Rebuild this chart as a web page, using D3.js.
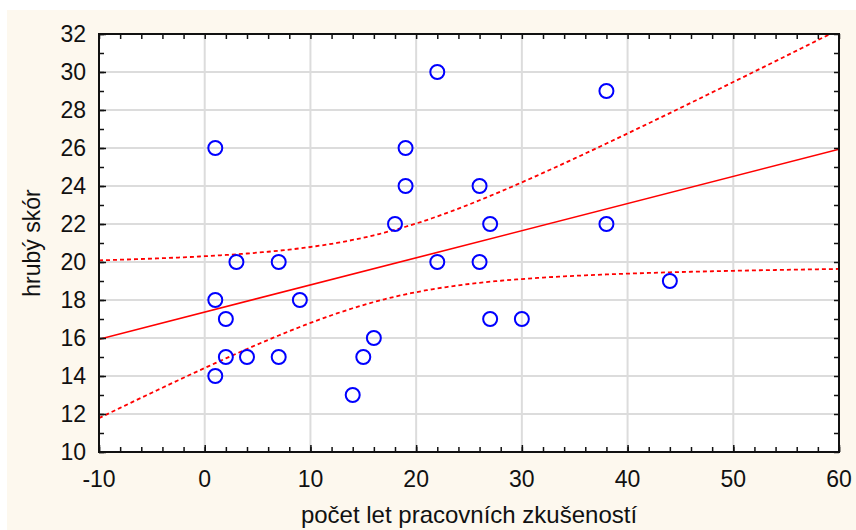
<!DOCTYPE html>
<html>
<head>
<meta charset="utf-8">
<script src="https://cdn.jsdelivr.net/npm/d3@7"></script>
<style>
  body { margin: 0; background: #fff; }
  svg text { font-family: "Liberation Sans", Arial, sans-serif; fill: #111; }
</style>
</head>
<body>
<svg id="chart" width="856" height="530"></svg>
<script>
// years of work experience vs raw score
var years  = [1, 1, 1, 2, 2, 3, 4, 7, 7, 9, 14, 15, 16, 18, 19, 19, 22, 22, 26, 26, 27, 27, 30, 38, 38, 44];
var scores = [26, 18, 14, 17, 15, 20, 15, 20, 15, 18, 13, 15, 16, 22, 26, 24, 30, 20, 24, 20, 22, 17, 17, 29, 22, 19];

var xTicks = [-10, 0, 10, 20, 30, 40, 50, 60];
var yTicks = [10, 12, 14, 16, 18, 20, 22, 24, 26, 28, 30, 32];
var xTitle = "počet let pracovních zkušeností";
var yTitle = "hrubý skór";
var tCrit = 2.064; // t(0.975, n-2) for the 95% band

var margin = {top: 34, right: 17, bottom: 78, left: 99},
    width = 856 - margin.left - margin.right,
    height = 530 - margin.top - margin.bottom;

var svg = d3.select("#chart");

// cream page background
svg.append("rect").attr("x", 7).attr("y", 10).attr("width", 849).attr("height", 520).style("fill", "#fdf8ee");

var x = d3.scaleLinear().domain([-10, 60]).range([0, width]);
var y = d3.scaleLinear().domain([10, 32]).range([height, 0]);

var g = svg.append("g").attr("transform", "translate(" + margin.left + "," + margin.top + ")");

g.append("rect").attr("width", width).attr("height", height).style("fill", "white");

// grid
g.append("g").selectAll("line").data(xTicks.slice(1, -1)).enter().append("line")
  .attr("x1", d => x(d)).attr("x2", d => x(d)).attr("y1", 0).attr("y2", height)
  .style("stroke", "#dcdcdc").style("stroke-width", 2);
g.append("g").selectAll("line").data(yTicks.slice(1, -1)).enter().append("line")
  .attr("y1", d => y(d)).attr("y2", d => y(d)).attr("x1", 0).attr("x2", width)
  .style("stroke", "#dcdcdc").style("stroke-width", 2);

// regression fit + 95% confidence band, computed from the points
var n = years.length;
var mx = d3.mean(years), my = d3.mean(scores);
var sxx = d3.sum(years, d => (d - mx) * (d - mx));
var sxy = d3.sum(years, (d, i) => (d - mx) * (scores[i] - my));
var slope = sxy / sxx, icpt = my - slope * mx;
var sse = d3.sum(years, (d, i) => Math.pow(scores[i] - (icpt + slope * d), 2));
var se = Math.sqrt(sse / (n - 2));

var xs = d3.range(-10, 60.01, 0.5);
function band(sign) {
  return xs.map(function(v) {
    var h = tCrit * se * Math.sqrt(1 / n + (v - mx) * (v - mx) / sxx);
    return [v, icpt + slope * v + sign * h];
  });
}

g.append("clipPath").attr("id", "clip").append("rect").attr("width", width).attr("height", height);
var lines = g.append("g").attr("clip-path", "url(#clip)");
var line = d3.line().x(d => x(d[0])).y(d => y(d[1]));

lines.append("path").datum([[-10, icpt - 10 * slope], [60, icpt + 60 * slope]])
  .attr("d", line).style("fill", "none").style("stroke", "#ff0000").style("stroke-width", 1.6);
[1, -1].forEach(function(s) {
  lines.append("path").datum(band(s)).attr("d", line)
    .style("fill", "none").style("stroke", "#ff0000").style("stroke-width", 1.8)
    .style("stroke-dasharray", "4,3");
});

// points
g.append("g").selectAll("circle").data(years).enter().append("circle")
  .attr("cx", d => x(d)).attr("cy", (d, i) => y(scores[i])).attr("r", 7)
  .style("fill", "none").style("stroke", "#0000ff").style("stroke-width", 2);

// axes: ticks point inward on all sides
var xMinor = d3.range(-10, 61, 2), yMinor = d3.range(10, 33, 1);
g.append("g").attr("transform", "translate(0," + height + ")")
  .call(d3.axisTop(x).tickValues(xMinor).tickSize(5).tickFormat(""));
g.append("g").attr("transform", "translate(0," + height + ")")
  .call(d3.axisTop(x).tickValues(xTicks).tickSize(7).tickFormat(""));
g.append("g").call(d3.axisBottom(x).tickValues(xMinor).tickSize(5).tickFormat(""));
g.append("g").call(d3.axisRight(y).tickValues(yMinor).tickSize(5).tickFormat(""));
g.append("g").call(d3.axisRight(y).tickValues(yTicks).tickSize(7).tickFormat(""));
g.append("g").attr("transform", "translate(" + width + ",0)")
  .call(d3.axisLeft(y).tickValues(yMinor).tickSize(5).tickFormat(""));
g.selectAll(".domain").remove();
g.selectAll(".tick line").style("stroke", "#111").style("stroke-width", 1.5);

g.append("rect").attr("width", width).attr("height", height)
  .style("fill", "none").style("stroke", "#111").style("stroke-width", 2);

// tick labels
g.append("g").selectAll("text").data(xTicks).enter().append("text")
  .attr("x", d => x(d)).attr("y", height + 35).attr("text-anchor", "middle")
  .style("font-size", "23px").text(d => d);
g.append("g").selectAll("text").data(yTicks).enter().append("text")
  .attr("x", -13).attr("y", d => y(d)).attr("text-anchor", "end").attr("dy", "0.36em")
  .style("font-size", "23px").text(d => d);

// titles
svg.append("text").attr("x", margin.left + width / 2).attr("y", 523).attr("text-anchor", "middle")
  .style("font-size", "24px").text(xTitle);
svg.append("text").attr("transform", "translate(40," + (margin.top + height / 2) + ") rotate(-90)")
  .attr("text-anchor", "middle").style("font-size", "23px").text(yTitle);
</script>
</body>
</html>
